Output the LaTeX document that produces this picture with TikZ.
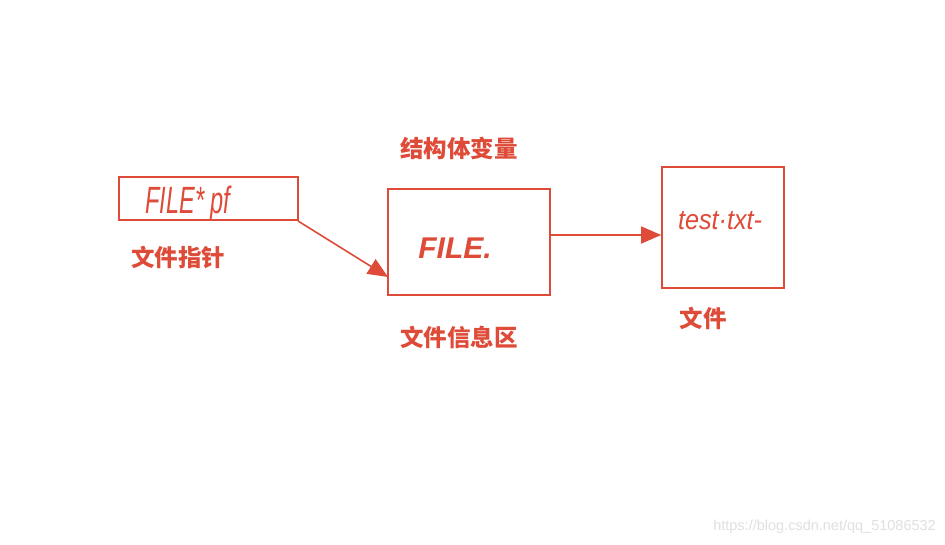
\documentclass[tikz,border=0pt]{standalone}
\usepackage{fontspec}
\setmainfont{Liberation Sans}
\newfontfamily\cjk{Noto Sans CJK SC}
\usetikzlibrary{arrows.meta}
\definecolor{rd}{HTML}{DE4B39}
\begin{document}
\begin{tikzpicture}[x=1pt,y=-1pt,
  box/.style={draw=rd,line width=1.6pt},
  lab/.style={text=rd,font=\cjk\bfseries\fontsize{23.5}{23.5}\selectfont,inner sep=0pt},
  conn/.style={draw=rd,line width=1.6pt,-{Triangle[length=20pt,width=17pt]}}]
\useasboundingbox[fill=white] (0,0) rectangle (945,545);
\path[box] (119,177) rectangle (298,220);
\coordinate (p1) at (298,221);
\node[box,minimum width=162pt,minimum height=106pt,inner sep=0pt] (info) at (469,242) {};
\node[box,minimum width=122pt,minimum height=121pt,inner sep=0pt] (file) at (723,227.5) {};
\node[text=rd,inner sep=0pt,font=\itshape\fontsize{38}{38}\selectfont,xscale=0.62] (ptr) at (188,204) {FILE* pf};
\node[text=rd,inner sep=0pt,font=\bfseries\itshape\fontsize{30}{30}\selectfont] (fl) at (455,248) {FILE.};
\node[text=rd,inner sep=0pt,font=\itshape\fontsize{28}{28}\selectfont,xscale=0.9] (tt) at (720,221) {test·txt-};
\node[lab] (l1) at (459,148) {结构体变量};
\node[lab] (l2) at (178,258) {文件指针};
\node[lab] (l3) at (459,337) {文件信息区};
\node[lab] (l4) at (703,318) {文件};
\coordinate (t1) at (388,277);
\path[conn] (p1) -- (t1);
\path[conn] (info.east |- 0,235) -- (file.west |- 0,235);
\node[anchor=east,text=black!12,inner sep=0pt,font=\fontsize{14.5}{14.5}\selectfont] (wm) at (936,527) {https://blog.csdn.net/qq\_51086532};
\end{tikzpicture}
\end{document}
